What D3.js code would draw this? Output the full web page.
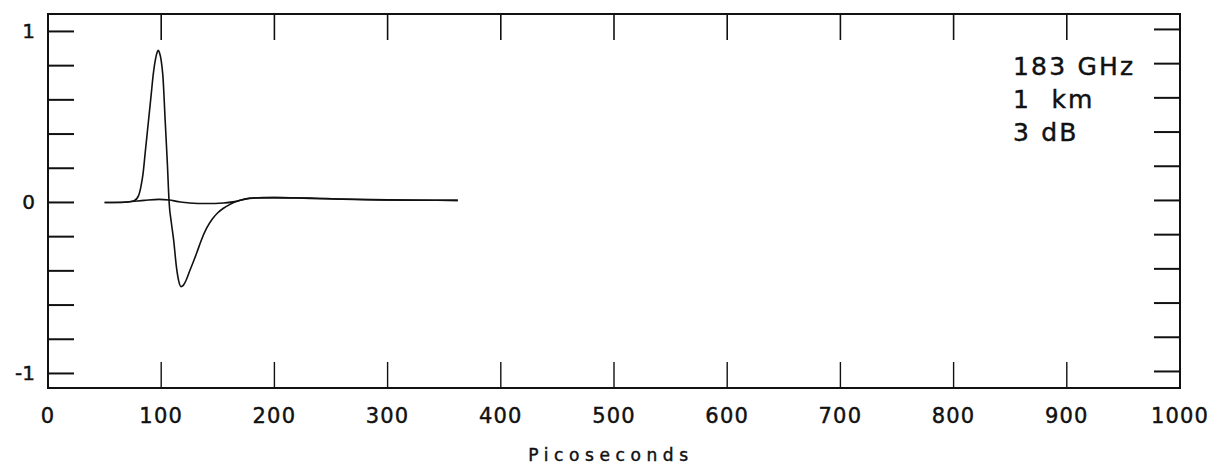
<!DOCTYPE html>
<html><head><meta charset="utf-8">
<script src="https://cdn.jsdelivr.net/npm/d3@7"></script>
<style>
html,body{margin:0;padding:0;background:#fff;}
text{font-family:"DejaVu Sans",sans-serif;fill:#111;stroke:#111;stroke-width:0.45px;}
</style></head>
<body><svg id="c" width="1212" height="468"></svg>
<script>
// Data
const pulseTime = [50,60,70,76,80,82,84,86,88.5,91,93,95,96.5,97.5,98.5,100,101.5,103.5,105.5,107,109,111,113.5,115.5,117.5,119.5,122,125.5,128.5,131.5,135,140,145,150,155,160,165,170,178,190,200,220,240,260,280,300,330,362];
const pulseValue = [0,0,0.003,0.01,0.04,0.09,0.17,0.30,0.46,0.62,0.75,0.84,0.88,0.89,0.875,0.83,0.74,0.48,0.22,0.0,-0.12,-0.22,-0.38,-0.46,-0.492,-0.485,-0.455,-0.395,-0.345,-0.293,-0.228,-0.152,-0.098,-0.06,-0.034,-0.014,0.002,0.013,0.024,0.028,0.028,0.026,0.022,0.019,0.016,0.014,0.013,0.012];
const refTime = [50,70,85,98,107,115,125,140,155,165,178,200,230,260,300,362];
const refValue = [0,0.003,0.012,0.018,0.014,0.005,-0.003,-0.006,-0.003,0.005,0.025,0.028,0.026,0.02,0.015,0.012];
const xTicks = [0,100,200,300,400,500,600,700,800,900,1000];
const yTicks = [-1,-0.8,-0.6,-0.4,-0.2,0,0.2,0.4,0.6,0.8,1];
const yLabels = [-1,0,1];
const annotation = ["183 GHz","1  km","3 dB"];
const xTitle = "Picoseconds";

const svg = d3.select("#c");
const L=48, R=1180, T=14, B=388;
const x = d3.scaleLinear().domain([0,1000]).range([L,R]);
const y = d3.scaleLinear().domain([-1.085,1.102]).range([B,T]);
const tickLen = 26;

// frame
svg.append("rect").attr("x",L).attr("y",T).attr("width",R-L).attr("height",B-T)
  .attr("fill","none").attr("stroke","#111").attr("stroke-width",2);

// x ticks top & bottom (inner ones)
const innerX = xTicks.filter(d=>d>0 && d<1000);
svg.selectAll(".xt").data(innerX).join("line")
  .attr("x1",d=>x(d)).attr("x2",d=>x(d)).attr("y1",T).attr("y2",T+tickLen)
  .attr("stroke","#111").attr("stroke-width",1.6);
svg.selectAll(".xb").data(innerX).join("line")
  .attr("x1",d=>x(d)).attr("x2",d=>x(d)).attr("y1",B).attr("y2",B-tickLen)
  .attr("stroke","#111").attr("stroke-width",1.4);

// y ticks left & right
svg.selectAll(".yl").data(yTicks).join("line")
  .attr("x1",L).attr("x2",L+tickLen).attr("y1",d=>y(d)).attr("y2",d=>y(d))
  .attr("stroke","#111").attr("stroke-width",2);
svg.selectAll(".yr").data(yTicks).join("line")
  .attr("x1",R).attr("x2",R-tickLen).attr("y1",d=>y(d)-2).attr("y2",d=>y(d)-2)
  .attr("stroke","#111").attr("stroke-width",2);

// x labels
svg.selectAll(".xl").data(xTicks).join("text")
  .attr("x",d=>x(d)).attr("y",423).attr("text-anchor","middle")
  .attr("font-size",21).attr("letter-spacing",1.2)
  .text(d=>d);
// y labels
svg.selectAll(".ylab").data(yLabels).join("text")
  .attr("x",35).attr("y",d=>y(d)+7).attr("text-anchor","end")
  .attr("font-size",20)
  .text(d=>d<0?"-"+Math.abs(d):d);

// title
svg.append("text").attr("x",(L+R)/2 - 3).attr("y",461).attr("text-anchor","middle")
  .attr("font-size",17).attr("letter-spacing",5.6).text(xTitle);

// annotation
svg.selectAll(".ann").data(annotation).join("text")
  .attr("x",1013).attr("y",(d,i)=>75+i*33).attr("font-size",25).attr("letter-spacing",2.2)
  .style("white-space","pre")
  .text(d=>d);

// curves
const line = d3.line().x(d=>x(d[0])).y(d=>y(d[1])).curve(d3.curveMonotoneX);
svg.append("path").datum(refTime.map((t,i)=>[t,refValue[i]]))
  .attr("d",line).attr("fill","none").attr("stroke","#111").attr("stroke-width",1.6);
svg.append("path").datum(pulseTime.map((t,i)=>[t,pulseValue[i]]))
  .attr("d",line).attr("fill","none").attr("stroke","#111").attr("stroke-width",1.6);
</script></body></html>
